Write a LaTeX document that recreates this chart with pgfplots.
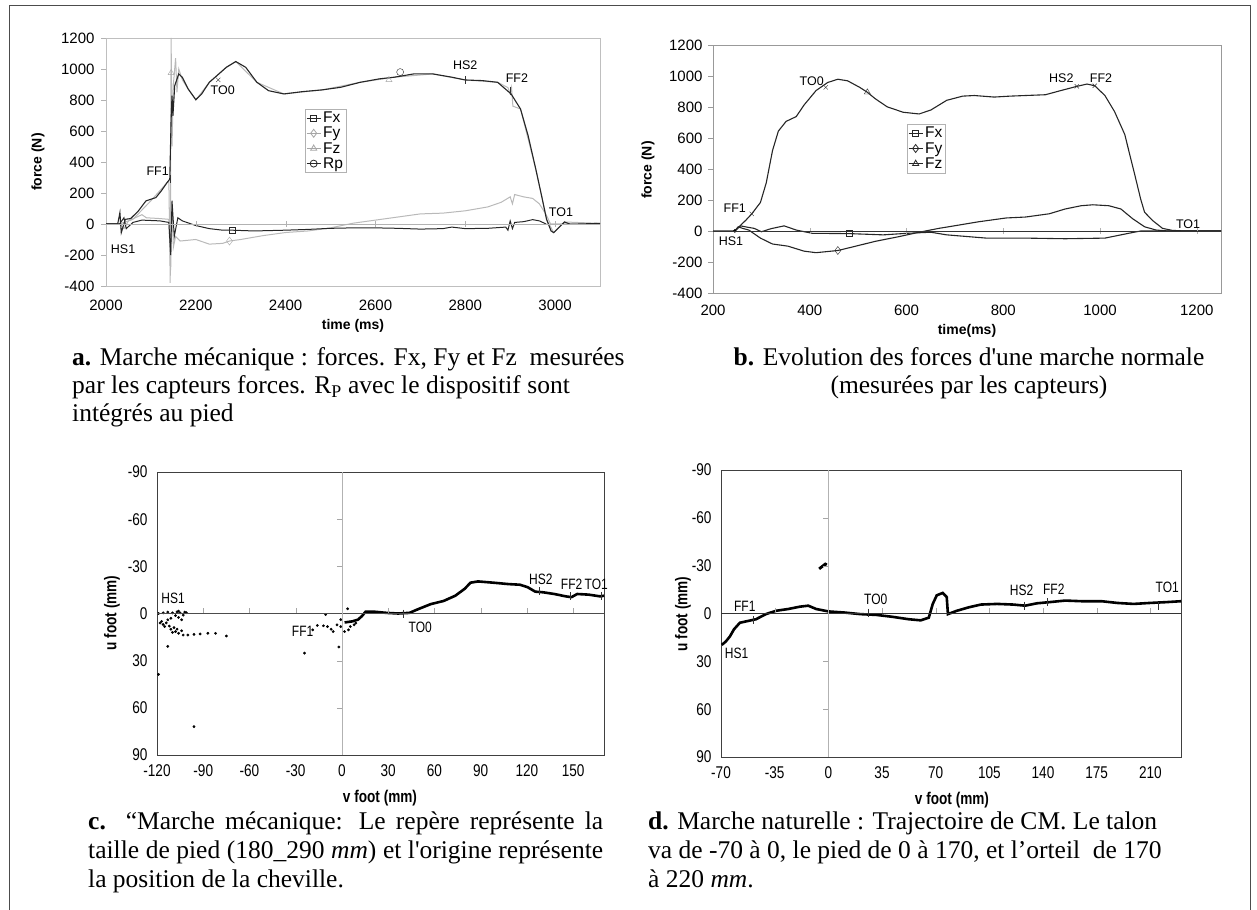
\documentclass[border=0pt]{standalone}
\usepackage{fontspec}
\setmainfont{Liberation Serif}
\newfontfamily\arial{Liberation Sans}
\newfontfamily\arialn{Liberation Sans}[FakeStretch=0.8]
\usepackage{pgfplots}
\pgfplotsset{compat=1.18}

\newcommand\tickfont{\arial\fontsize{15bp}{18bp}\selectfont}
\newcommand\legfont{\arial\fontsize{15.5bp}{19bp}\selectfont}
\newcommand\annfont{\arial\fontsize{12.5bp}{14bp}\selectfont}
\newcommand\tickfontn{\arialn\fontsize{17bp}{19bp}\selectfont}
\newcommand\annfontn{\arialn\fontsize{15bp}{17bp}\selectfont}
\newcommand\labfont{\arial\bfseries\fontsize{14bp}{16bp}\selectfont}
\newcommand\labfontn{\arialn\bfseries\fontsize{17bp}{19bp}\selectfont}
\newcommand\capfont{\fontsize{25.5bp}{28bp}\selectfont}

\pgfplotsset{
  every axis/.append style={scale only axis, anchor=south west, clip=false,
    /pgf/number format/assume math mode=true, /pgf/number format/1000 sep={},
    tick label style={font=\tickfont}},
  leg/.style={legend style={anchor=north west, draw=gray!60, font=\legfont,
      inner sep=1bp, row sep=-1bp, cells={anchor=west}},
    legend image code/.code={\draw[mark repeat=2,mark phase=2,##1] plot coordinates {(0bp,0bp)(7bp,0bp)(14bp,0bp)};}},
}

\begin{document}
\begin{tikzpicture}[x=1bp,y=1bp]
\path[use as bounding box] (0,0) rectangle (1257,910);
\draw[black!70, line width=1bp] (9,0) -- (9,904) -- (1250,904) -- (1250,0);

% ---------------- panel a ----------------
\begin{axis}[at={(106bp,624bp)}, width=494bp, height=248bp,
  xmin=2000, xmax=3100, ymin=-400, ymax=1200,
  xtick={2000,2200,...,3000}, ytick={-400,-200,...,1200},
  axis line style={gray!50},
  xtick style={draw=none}, ytick pos=left, ytick style={gray!60},
  tick align=outside, major tick length=5bp,
  xticklabel style={yshift=-6bp}, yticklabel style={xshift=-3bp},
  leg, legend style={at={(0.403,0.714)}}]
\addlegendimage{black!85, line width=0.8bp, mark=square, mark size=3bp, mark options={fill=white,solid}}
\addlegendentry{Fx}
\addlegendimage{gray!70, line width=0.8bp, mark=diamond, mark size=4bp, mark options={fill=white,solid}}
\addlegendentry{Fy}
\addlegendimage{gray!70, line width=0.8bp, mark=triangle, mark size=3.5bp, mark options={fill=white,solid}}
\addlegendentry{Fz}
\addlegendimage{black!85, line width=0.8bp, mark=o, mark size=3.5bp, mark options={fill=white,solid}}
\addlegendentry{Rp}
% Fz (grey)
\addplot[forget plot, gray!55, line width=1bp] coordinates {
(2000,0)(2030,0)(2060,30)(2100,150)(2140,280)(2143,-380)(2145,1200)(2147,500)(2150,900)
(2155,1070)(2158,850)(2162,1000)(2170,930)(2183,870)(2200,800)(2230,914)(2268,1011)
(2289,1048)(2336,914)(2396,839)(2481,865)(2566,914)(2642,947)(2728,968)(2800,929)
(2872,914)(2895,880)(2900,840)(2903,880)(2906,760)(2923,742)(2957,354)(2981,30)
(2997,-56)(3021,13)(3100,4)};
% Fy (grey)
\addplot[forget plot, gray!55, line width=1bp] coordinates {
(2000,0)(2030,0)(2040,-30)(2050,20)(2065,40)(2080,60)(2090,40)(2120,35)(2140,30)
(2144,-300)(2147,100)(2150,-150)(2155,-80)(2165,-110)(2200,-100)(2230,-130)(2260,-125)
(2275,-110)(2300,-100)(2350,-75)(2400,-55)(2450,-45)(2500,-25)(2550,5)(2600,25)
(2650,45)(2700,65)(2750,70)(2800,85)(2850,110)(2880,140)(2900,175)(2905,130)(2910,190)
(2930,175)(2950,165)(2965,130)(2980,60)(2990,0)(3100,0)};
% Fx (black)
\addplot[forget plot, black!85, line width=1bp] coordinates {
(2000,0)(2030,0)(2040,40)(2045,-30)(2060,10)(2080,25)(2120,20)(2140,10)(2144,-200)
(2147,150)(2152,-80)(2160,40)(2170,20)(2180,10)(2200,-10)(2230,-30)(2260,-40)(2280,-40)
(2330,-45)(2400,-40)(2450,-35)(2500,-28)(2550,-25)(2600,-25)(2650,-28)(2700,-33)
(2750,-30)(2770,-20)(2800,-30)(2850,-28)(2890,-20)(2895,-40)(2900,20)(2905,-30)
(2910,10)(2930,15)(2950,28)(2965,20)(2980,0)};
% Rp (black)
\addplot[forget plot, black!85, line width=1.1bp] coordinates {
(2000,0)(2026,0)(2031,73)(2034,-56)(2043,30)(2055,35)(2072,84)(2089,149)(2111,170)
(2123,213)(2136,267)(2142,289)(2145,677)(2147,828)(2149,698)(2153,892)(2162,968)
(2170,946)(2183,871)(2200,802)(2213,839)(2230,914)(2247,957)(2268,1011)(2289,1048)
(2311,1011)(2336,914)(2362,860)(2396,839)(2438,854)(2481,865)(2523,882)(2566,914)
(2608,936)(2642,947)(2685,968)(2728,968)(2770,947)(2800,929)(2838,925)(2872,914)
(2902,839)(2923,742)(2940,569)(2957,354)(2970,181)(2981,30)(2991,-45)(2997,-56)
(3008,-24)(3021,13)(3034,-2)(3100,4)};
% series markers
\addplot[forget plot, only marks, black!85, mark=square, mark size=3bp, mark options={fill=white}] coordinates {(2280,-40)};
\addplot[forget plot, only marks, gray!70, mark=diamond, mark size=4bp, mark options={fill=white}] coordinates {(2275,-110)};
\addplot[forget plot, only marks, gray!70, mark=triangle, mark size=3.5bp, mark options={fill=white}] coordinates {(2145,975)(2630,930)};
\addplot[forget plot, only marks, black!85, mark=o, mark size=3.5bp, mark options={fill=white}] coordinates {(2655,980)};
% event marks
\addplot[forget plot, only marks, black!80, mark=x, mark size=3bp] coordinates {(2250,930)};
\addplot[forget plot, only marks, black!80, mark=|, mark size=4bp] coordinates {(2142,289)(2800,929)(2900,860)};
\node[font=\annfont] at (axis cs:2038,-164) {HS1};
\node[font=\annfont] at (axis cs:2115,343) {FF1};
\node[font=\annfont] at (axis cs:2260,860) {TO0};
\node[font=\annfont] at (axis cs:2800,1024) {HS2};
\node[font=\annfont] at (axis cs:2915,940) {FF2};
\node[font=\annfont] at (axis cs:3013,73) {TO1};
\end{axis}
\begin{axis}[at={(106bp,624bp)}, width=494bp, height=248bp,
  xmin=2000, xmax=3100, ymin=-400, ymax=1200,
  axis x line=middle, axis y line=none, axis line style={-, gray!60},
  xtick={2200,2400,...,3000}, xticklabels={}, ytick=\empty,
  xtick style={gray!60}, tick align=center, major tick length=6bp]
\addplot[draw=none] coordinates {(2000,0)(3100,0)};
\end{axis}
\node[font=\labfont, rotate=90] at (38,748) {force (N)};
\node[font=\labfont] at (353,584) {time (ms)};

% ---------------- panel b ----------------
\begin{axis}[at={(713bp,617bp)}, width=508bp, height=248bp,
  xmin=200, xmax=1250, ymin=-400, ymax=1200,
  xtick={200,400,...,1200}, ytick={-400,-200,...,1200},
  axis line style={gray!80},
  xtick style={draw=none}, ytick pos=left, ytick style={gray!80},
  tick align=outside, major tick length=5bp,
  xticklabel style={yshift=-4bp}, yticklabel style={xshift=-2bp},
  leg, legend style={at={(0.382,0.681)}}]
\addlegendimage{black!85, line width=0.8bp, mark=square, mark size=3bp, mark options={fill=white,solid}}
\addlegendentry{Fx}
\addlegendimage{black!85, line width=0.8bp, mark=diamond, mark size=4bp, mark options={fill=white,solid}}
\addlegendentry{Fy}
\addlegendimage{black!85, line width=0.8bp, mark=triangle, mark size=3.5bp, mark options={fill=white,solid}}
\addlegendentry{Fz}
% Fz
\addplot[forget plot, black!85, line width=1.1bp] coordinates {
(200,0)(245,0)(258,40)(268,70)(280,110)(298,184)(310,310)(323,519)(335,644)(351,707)
(372,738)(388,812)(413,906)(437,958)(458,979)(478,969)(503,927)(519,895)(535,854)
(560,801)(593,766)(626,755)(650,780)(683,843)(716,870)(740,874)(781,864)(814,870)
(846,874)(887,879)(919,906)(952,933)(973,948)(989,937)(1010,874)(1030,770)(1051,623)
(1071,372)(1084,205)(1092,121)(1108,69)(1129,17)(1149,4)(1174,0)(1250,0)};
% Fy
\addplot[forget plot, black!85, line width=1.1bp] coordinates {
(245,0)(252,27)(261,17)(274,6)(298,-46)(323,-84)(355,-98)(388,-130)(413,-140)(458,-126)
(495,-98)(535,-67)(585,-36)(626,-8)(667,17)(708,38)(748,59)(806,84)(846,90)(895,111)
(928,142)(961,163)(985,169)(1018,163)(1043,142)(1067,80)(1092,27)(1116,6)(1141,0)(1250,0)};
% Fx
\addplot[forget plot, black!85, line width=1.1bp] coordinates {
(245,0)(257,33)(270,25)(285,17)(300,-5)(320,15)(347,33)(372,6)(405,-15)(482,-17)
(552,-25)(601,-15)(650,-8)(683,-25)(765,-46)(846,-46)(928,-50)(1010,-46)(1059,-15)
(1084,0)(1250,0)};
\addplot[forget plot, only marks, black!85, mark=square, mark size=3bp, mark options={fill=white}] coordinates {(482,-17)};
\addplot[forget plot, only marks, black!85, mark=diamond, mark size=4bp, mark options={fill=white}] coordinates {(458,-126)};
\addplot[forget plot, only marks, black!85, mark=triangle, mark size=3.5bp, mark options={fill=white}] coordinates {(519,895)};
\addplot[forget plot, only marks, black!80, mark=x, mark size=3bp] coordinates {(280,110)(433,927)(952,933)(989,937)};
\addplot[forget plot, only marks, black, mark=*, mark size=1.5bp] coordinates {(245,0)};
\node[font=\annfont] at (axis cs:237,-67) {HS1};
\node[font=\annfont] at (axis cs:245,146) {FF1};
\node[font=\annfont] at (axis cs:404,969) {TO0};
\node[font=\annfont] at (axis cs:920,983) {HS2};
\node[font=\annfont] at (axis cs:1002,983) {FF2};
\node[font=\annfont] at (axis cs:1182,42) {TO1};
\end{axis}
\begin{axis}[at={(713bp,617bp)}, width=508bp, height=248bp,
  xmin=200, xmax=1250, ymin=-400, ymax=1200,
  axis x line=middle, axis y line=none, axis line style={-, black!80},
  xtick={400,600,...,1200}, xticklabels={}, ytick=\empty,
  xtick style={gray!60}, tick align=center, major tick length=6bp]
\addplot[draw=none] coordinates {(200,0)(1250,0)};
\end{axis}
\node[font=\labfont, rotate=90] at (648,740) {force (N)};
\node[font=\labfont] at (967,579) {time(ms)};

% ---------------- panel c ----------------
\begin{axis}[at={(157bp,155bp)}, width=447bp, height=283bp,
  xmin=-120, xmax=170, ymin=-90, ymax=90, y dir=reverse,
  xtick={-120,-90,...,150}, ytick={-90,-60,...,90},
  tick label style={font=\tickfontn},
  axis line style={black!75, line width=0.8bp}, tick style={draw=none},
  xticklabel style={yshift=-6bp}, yticklabel style={xshift=-6bp}]
\addplot[black, line width=2.6bp] coordinates {
(1.7,5.7)(6.7,5)(10.4,3.9)(12.9,1.7)(15.3,-1.1)(21.5,-1.1)(28.9,-0.4)(36.4,0)(43.8,-0.4)
(50,-3)(57.4,-5.9)(66,-8)(73.5,-11.3)(79.6,-15.7)(83.4,-19.6)(88.3,-20.4)(98.2,-19.6)
(108.1,-18.7)(115.5,-18.3)(120.5,-16.7)(125.4,-13.9)(130.4,-13.5)(137.8,-12.4)
(145.2,-10.9)(148.9,-10.4)(152.6,-12.4)(160,-12)(167.5,-10.9)(170,-11.3)};
\addplot[only marks, black, mark=*, mark size=1.2bp] coordinates {
(-119,0)(-116,-0.4)(-113,-0.9)(-110,-0.4)(-107,-1)(-105,-0.4)(-102,-0.9)
(-118,6)(-116,7)(-113,4)(-111,3)(-108,1.3)(-106,2.5)(-104,4)
(-117,5)(-114,6)(-112,8)(-109,9)(-107,10)(-110,12)(-104,11)(-106,-1.5)(-103,1)(-101,-0.5)
(-115,8.3)(-111,10)(-108,11.5)(-106,12.6)(-103,13.7)(-100,13.7)(-96,13.3)(-92,13)
(-87,12.6)(-82,12.6)(-75,14.3)
(-119,38.7)(-113,20.9)(-96,72)(-24.3,25.2)(-10.6,0.7)(-2,21.3)(-0.8,3.9)(3.7,-3)
(-19,10.4)(-16,7.6)(-12,7.8)(-9.4,8.3)(-7,10)(-5.7,11.5)(-3.2,7.2)(-0.8,8.3)(1.7,11.5)
(4.2,10.4)(5.4,8.3)(7.9,7.2)(9,6.1)};
\addplot[only marks, black!80, mark=|, mark size=4bp] coordinates {(40,0)(128,-14)(148,-11)(168,-11)};
\node[font=\annfontn] at (axis cs:-109.6,-9.6) {HS1};
\node[font=\annfontn] at (axis cs:-25.5,11.5) {FF1};
\node[font=\annfontn, anchor=west] at (axis cs:41,8.5) {TO0};
\node[font=\annfontn] at (axis cs:129,-22) {HS2};
\node[font=\annfontn] at (axis cs:149,-18.5) {FF2};
\node[font=\annfontn] at (axis cs:165,-18.5) {TO1};
\end{axis}
\begin{axis}[at={(157bp,155bp)}, width=447bp, height=283bp,
  xmin=-120, xmax=170, ymin=-90, ymax=90, y dir=reverse,
  axis lines=middle, axis line style={-}, x axis line style={black!70}, y axis line style={gray!60},
  xtick={-90,-60,...,150}, ytick={-60,-30,30,60}, xticklabels={}, yticklabels={},
  tick style={gray!70}, major tick length=5bp, tick align=outside]
\addplot[draw=none] coordinates {(0,0)};
\end{axis}
\node[font=\labfontn, rotate=90] at (112,297) {u foot (mm)};
\node[font=\labfontn] at (380,112) {v foot (mm)};

% ---------------- panel d ----------------
\begin{axis}[at={(721bp,153bp)}, width=460bp, height=287bp,
  xmin=-70, xmax=230, ymin=-90, ymax=90, y dir=reverse,
  xtick={-70,-35,...,210}, ytick={-90,-60,...,90},
  tick label style={font=\tickfontn},
  axis line style={black!75, line width=0.8bp}, tick style={draw=none},
  xticklabel style={yshift=-6bp}, yticklabel style={xshift=-6bp}]
\addplot[black, line width=2.6bp] coordinates {
(-69.5,19.7)(-66.9,17.6)(-64.2,14.4)(-61.6,10)(-57.7,5.8)(-52.4,4.7)(-47.2,3.6)
(-40.7,0.4)(-34.1,-1.7)(-26.2,-2.8)(-18.4,-4.3)(-13.1,-4.9)(-7.9,-2.8)(0,-1.3)
(10.4,-0.6)(20.9,0.4)(31.4,0.9)(41.9,2.1)(52.4,3.6)(60.2,4.3)(65.5,2.6)(68.1,-6)
(70.7,-11.4)(74.6,-12.9)(77.2,-10.3)(78,0.4)(83.8,-1.7)(91.7,-3.9)(99.5,-5.6)(110,-6)
(120.5,-5.6)(128.3,-4.9)(136.2,-6.4)(144,-7.1)(154.5,-8.1)(165,-7.7)(178.1,-7.7)
(188.6,-6.6)(199.1,-6)(209.5,-6.6)(220,-7.1)(230,-7.7)};
\addplot[black, line width=2.8bp] coordinates {(-6,-28)(-4,-29.5)(-2,-31)(-1,-30.5)};
\addplot[only marks, black!80, mark=|, mark size=4bp] coordinates {(-49,4.3)(26,-0.5)(128,-4.9)(143,-7)(215,-5)};
\node[font=\annfontn] at (axis cs:-59.8,25) {HS1};
\node[font=\annfontn] at (axis cs:-54.5,-4.3) {FF1};
\node[font=\annfontn] at (axis cs:30.9,-8.6) {TO0};
\node[font=\annfontn] at (axis cs:126,-14.6) {HS2};
\node[font=\annfontn] at (axis cs:147,-15) {FF2};
\node[font=\annfontn] at (axis cs:221,-16.7) {TO1};
\end{axis}
\begin{axis}[at={(721bp,153bp)}, width=460bp, height=287bp,
  xmin=-70, xmax=230, ymin=-90, ymax=90, y dir=reverse,
  axis lines=middle, axis line style={-}, x axis line style={black!80}, y axis line style={gray!60},
  xtick={-35,35,70,...,210}, ytick={-60,-30,30,60}, xticklabels={}, yticklabels={},
  tick style={gray!70}, major tick length=5bp, tick align=outside]
\addplot[draw=none] coordinates {(0,0)};
\end{axis}
\node[font=\labfontn, rotate=90] at (683,296) {u foot (mm)};
\node[font=\labfontn] at (952,110) {v foot (mm)};

% ---------------- captions ----------------
\begin{scope}[every node/.style={font=\capfont, inner sep=0pt}]
\node[anchor=base west] at (72,544) {\textbf{a.} Marche mécanique : forces. Fx, Fy et Fz\ \ mesurées};
\node[anchor=base west] at (72,516) {par les capteurs forces. R\textsubscript{P} avec le dispositif sont};
\node[anchor=base west] at (72,488) {intégrés au pied};
\node[anchor=base] at (969,544) {\textbf{b.} Evolution des forces d\textquotesingle une marche normale};
\node[anchor=base] at (969,516) {(mesurées par les capteurs)};
\node[anchor=base west] at (88,80) {\makebox[515bp][s]{\textbf{c.} “Marche mécanique: Le repère représente la}};
\node[anchor=base west] at (88,51) {\makebox[515bp][s]{taille de pied (180\_290 \textit{mm}) et l\textquotesingle origine représente}};
\node[anchor=base west] at (88,22) {la position de la cheville.};
\node[anchor=base west] at (648,80) {\textbf{d.} Marche naturelle : Trajectoire de CM. Le talon};
\node[anchor=base west] at (648,51) {va de -70 à 0, le pied de 0 à 170, et l’orteil\ \ de 170};
\node[anchor=base west] at (648,22) {à 220 \textit{mm}.};
\end{scope}
\end{tikzpicture}
\end{document}
